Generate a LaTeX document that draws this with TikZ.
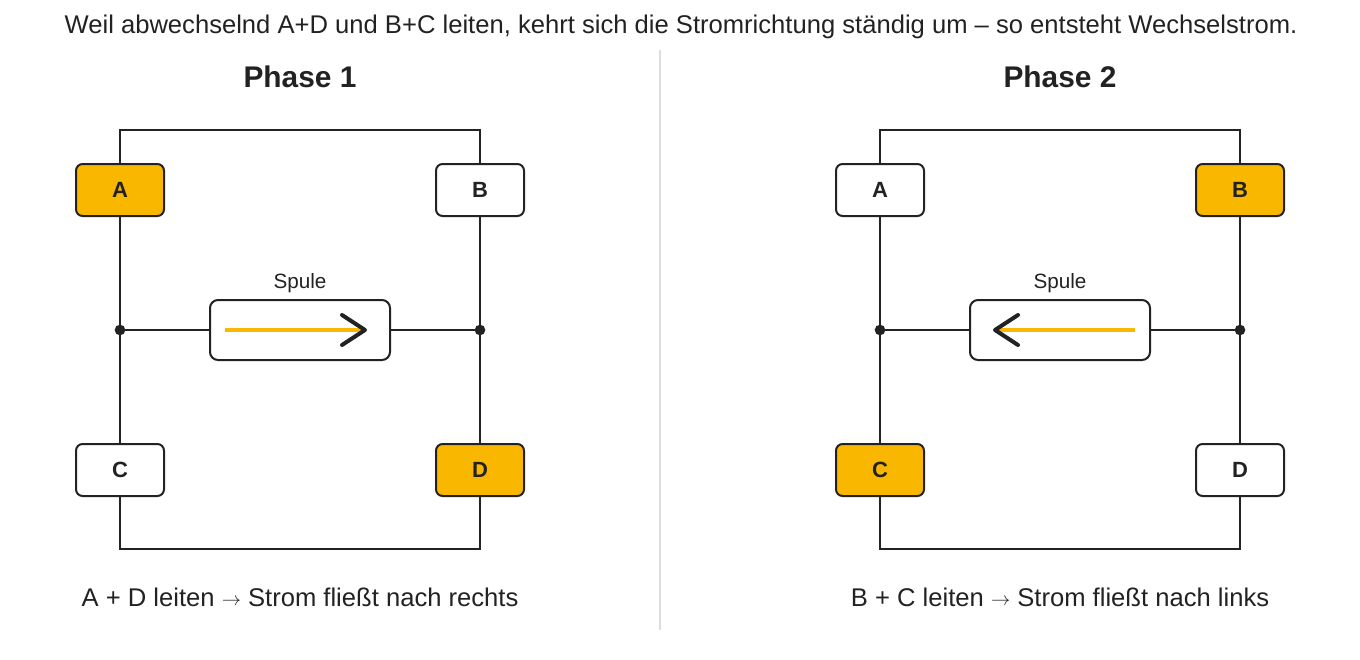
\documentclass[tikz,border=0pt]{standalone}
\usepackage{fontspec}
\setmainfont{Liberation Sans}
\usetikzlibrary{positioning}
\definecolor{amber}{HTML}{F9B700}
\definecolor{ink}{HTML}{222222}
\definecolor{divider}{HTML}{DDDDDD}
\newcommand{\smallto}{\raisebox{0.5pt}{\fontsize{15}{16}\selectfont$\rightarrow$}}
\tikzset{
  switch/.style={draw=ink, line width=1.5pt, rounded corners=5pt, minimum width=66pt, minimum height=39pt, font=\fontsize{16.5}{18}\selectfont\bfseries, text=ink},
  coil/.style={draw=ink, line width=1.5pt, rounded corners=6pt, fill=white, minimum width=135pt, minimum height=45pt},
  wire/.style={ink, line width=1.5pt},
  current/.style={amber, line width=3pt},
  chevron/.style={ink, line width=3pt, line cap=round, line join=round}
}
\begin{document}
\begin{tikzpicture}[x=0.75pt, y=-0.75pt]
  \useasboundingbox (0,0) rectangle (1360,660);
  % headline
  \node[text=ink, font=\fontsize{19.2}{22}\selectfont] (head) at (681,27) {Weil abwechselnd A+D und B+C leiten, kehrt sich die Stromrichtung ständig um -- so entsteht Wechselstrom.};
  % divider
  \coordinate (dtop) at (660,50);
  \coordinate (dbot) at (660,630);
  \draw[divider, line width=1.2pt] (dtop) -- (dbot);
  % both phases
  \foreach \dx/\n/\fa/\fb/\fc/\fd/\dir/\txt in {
      0/1/amber/white/white/amber/1/{A + D leiten \smallto\ Strom fließt nach rechts},
      760/2/white/amber/amber/white/-1/{B + C leiten \smallto\ Strom fließt nach links}} {
    \begin{scope}[xshift=\dx*0.75pt]
      \node[text=ink, font=\fontsize{22.4}{26}\selectfont\bfseries] (title\n) at (300,77) {Phase \n};
      \node[switch, fill=\fa] (A\n) at (120,190) {A};
      \node[switch, fill=\fb] (B\n) at (480,190) {B};
      \node[switch, fill=\fc] (C\n) at (120,470) {C};
      \node[switch, fill=\fd] (D\n) at (480,470) {D};
      \node[coil] (S\n) at (300,330) {};
      \node[text=ink, font=\fontsize{15.5}{18}\selectfont] (lab\n) at (300,283) {Spule};
      \coordinate (tl\n) at (120,130);
      \coordinate (bl\n) at (120,549);
      \coordinate (jl\n) at (120,330);
      \coordinate (jr\n) at (480,330);
      % wiring
      \draw[wire] (A\n.north) -- (tl\n) -| (B\n.north);
      \draw[wire] (C\n.south) -- (bl\n) -| (D\n.south);
      \draw[wire] (A\n.south) -- (C\n.north);
      \draw[wire] (B\n.south) -- (D\n.north);
      \draw[wire] (jl\n) -- (S\n.west);
      \draw[wire] (S\n.east) -- (jr\n);
      \fill[ink] (jl\n) circle (4pt);
      \fill[ink] (jr\n) circle (4pt);
      % current arrow
      \coordinate (cs\n) at (300-75*\dir,330);
      \coordinate (ce\n) at (300+62*\dir,330);
      \coordinate (tip\n) at (300+65*\dir,330);
      \draw[current] (cs\n) -- (ce\n);
      \draw[chevron] (300+42*\dir,315) -- (tip\n) -- (300+42*\dir,345);
      \node[text=ink, font=\fontsize{19.2}{22}\selectfont] (cap\n) at (300,597) {\txt};
    \end{scope}
  }
\end{tikzpicture}
\end{document}
